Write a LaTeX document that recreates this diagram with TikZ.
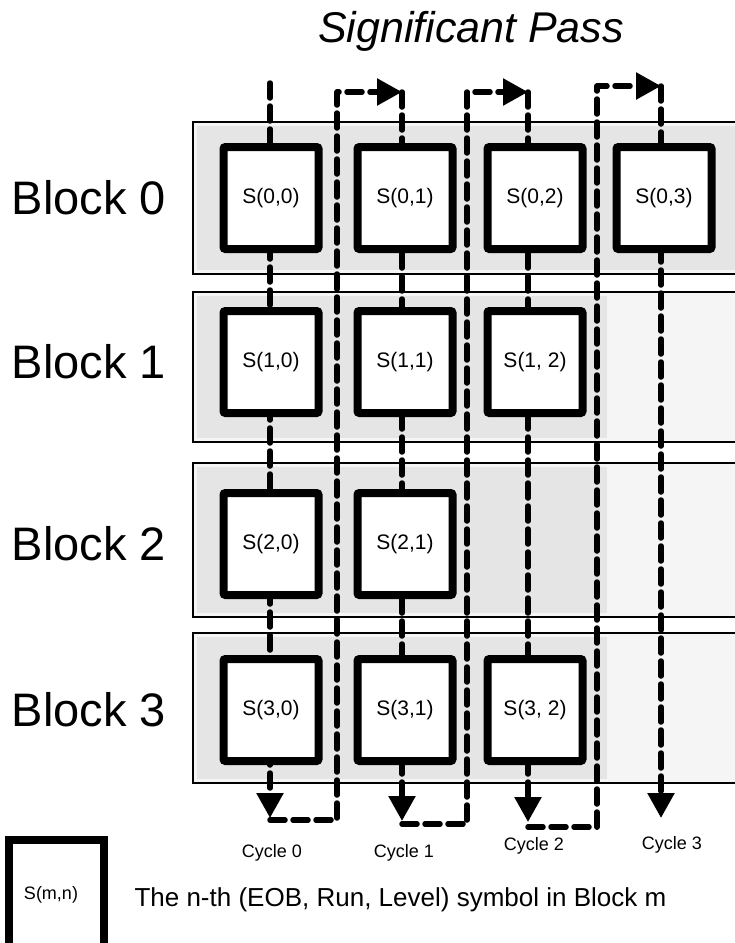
\documentclass[tikz,border=0pt]{standalone}
\usepackage{fontspec}
\setmainfont{Liberation Sans}
\usetikzlibrary{arrows.meta}

\begin{document}
\begin{tikzpicture}[x=1pt, y=-1pt,
  sym/.style={draw, line width=8pt, fill=white, rounded corners=2pt, minimum width=95pt, minimum height=102pt, inner sep=0pt, font=\fontsize{21}{23}\selectfont},
  band/.style={draw, line width=1.2pt, fill=black!4},
  speckle/.style={fill=black!10},
  blk/.style={font=\fontsize{47}{50}\selectfont},
  cyc/.style={font=\fontsize{18}{20}\selectfont},
  flow/.style={line width=5.5pt, dash pattern=on 15pt off 8pt, line cap=round, line join=round},
  tip/.style={-{Triangle[length=25pt,width=26pt]}}
]
\useasboundingbox (0,0) rectangle (735,943);

% title
\node[font=\fontsize{43}{46}\selectfont\itshape] (title) at (471,31) {Significant Pass};

% block bands
\draw[band] (193,122) rectangle (745,274);
\draw[band] (193,292) rectangle (745,442);
\draw[band] (193,463) rectangle (745,617);
\draw[band] (193,633) rectangle (745,783);
\fill[speckle] (197,126) rectangle (745,270);
\fill[speckle] (197,296) rectangle (607,438);
\fill[speckle] (197,467) rectangle (607,613);
\fill[speckle] (197,637) rectangle (607,779);

\node[blk] (blk0) at (89,198) {Block 0};
\node[blk] (blk1) at (89,362) {Block 1};
\node[blk] (blk2) at (89,544) {Block 2};
\node[blk] (blk3) at (89,710) {Block 3};

% scan order
\coordinate (top0) at (270,83);
\coordinate (end0) at (270,818);
\coordinate (up0a) at (337,820);
\coordinate (up0b) at (337,92);
\coordinate (top1) at (402,92);
\coordinate (end1) at (402,821);
\coordinate (up1a) at (467,824);
\coordinate (up1b) at (467,92);
\coordinate (top2) at (528,92);
\coordinate (end2) at (528,822);
\coordinate (up2a) at (597,827);
\coordinate (up2b) at (597,86);
\coordinate (top3) at (661,86);
\coordinate (end3) at (661,818);

\draw[flow, tip] (top0) -- (end0);
\draw[flow, tip] (end0 |- up0a) -- (up0a) -- (up0b) -- (top1);
\draw[flow, tip] (top1) -- (end1);
\draw[flow, tip] (end1 |- up1a) -- (up1a) -- (up1b) -- (top2);
\draw[flow, tip] (top2) -- (end2);
\draw[flow, tip] (end2 |- up2a) -- (up2a) -- (up2b) -- (top3);
\draw[flow, tip] (top3) -- (end3);

% symbols
\node[sym] (S00) at (271,198) {S(0,0)};
\node[sym] (S01) at (405,198) {S(0,1)};
\node[sym] (S02) at (535,198) {S(0,2)};
\node[sym] (S03) at (664,198) {S(0,3)};

\node[sym] (S10) at (271,362) {S(1,0)};
\node[sym] (S11) at (405,362) {S(1,1)};
\node[sym] (S12) at (535,362) {S(1, 2)};

\node[sym] (S20) at (271,544) {S(2,0)};
\node[sym] (S21) at (405,544) {S(2,1)};

\node[sym] (S30) at (271,710) {S(3,0)};
\node[sym] (S31) at (405,710) {S(3,1)};
\node[sym] (S32) at (535,710) {S(3, 2)};

\node[cyc] (cyc0) at (272,853) {Cycle 0};
\node[cyc] (cyc1) at (404,853) {Cycle 1};
\node[cyc] (cyc2) at (534,846) {Cycle 2};
\node[cyc] (cyc3) at (672,845) {Cycle 3};

% legend
\node[sym, minimum width=95pt, minimum height=110pt, rounded corners=0pt, font=\fontsize{18}{20}\selectfont] (key) at (56,895) {\hspace*{-10pt}S(m,n)};
\node[anchor=west, font=\fontsize{26}{29}\selectfont] (keytext) at (131,900) {The n-th (EOB, Run, Level) symbol in Block m};

\end{tikzpicture}
\end{document}
